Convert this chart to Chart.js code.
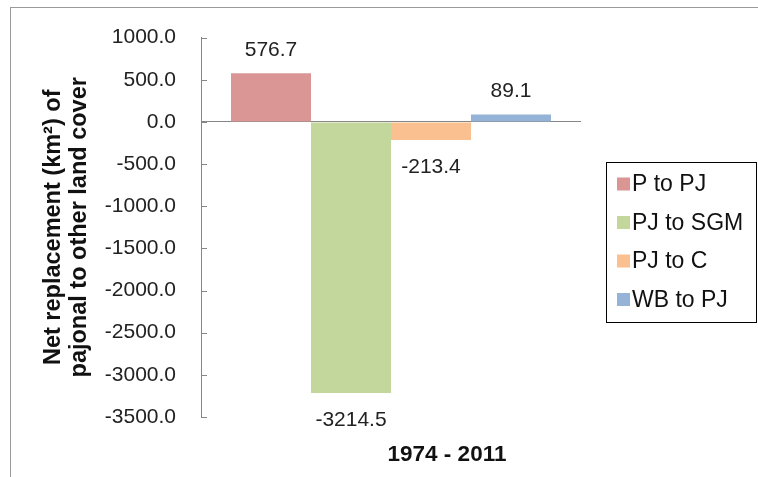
<!DOCTYPE html>
<html>
<head>
<meta charset="utf-8">
<script src="https://cdn.jsdelivr.net/npm/chart.js@4"></script>
<style>
  html, body { margin: 0; padding: 0; background: #fff; }
</style>
</head>
<body>
<canvas id="myChart" width="758" height="477"></canvas>
<script>
const periods = ["1974 - 2011"];
const seriesNames = ["P to PJ", "PJ to SGM", "PJ to C", "WB to PJ"];
const seriesValues = [576.7, -3214.5, -213.4, 89.1];
const seriesColors = ["#d99694", "#c3d69b", "#fac090", "#95b3d7"];
const yTickValues = [1000, 500, 0, -500, -1000, -1500, -2000, -2500, -3000, -3500];

const FONT = "'Liberation Sans', Arial, sans-serif";
const AXIS_GRAY = "#868686";

// frame around the whole chart (only top and left visible in the original)
const framePlugin = {
    id: "frame",
    beforeDraw(chart) {
        const c = chart.ctx;
        c.save();
        c.strokeStyle = "#9a9a9a";
        c.lineWidth = 1;
        c.strokeRect(10.5, 7.5, 900, 600);
        c.restore();
    },
};

// small tick marks pointing inside the plot
const innerTicks = {
    id: "innerTicks",
    afterDraw(chart) {
        const y = chart.scales.y;
        const c = chart.ctx;
        c.save();
        c.strokeStyle = AXIS_GRAY;
        c.lineWidth = 1;
        y.ticks.forEach((t) => {
            const py = Math.round(y.getPixelForValue(t.value)) + 0.5;
            c.beginPath();
            c.moveTo(y.right, py);
            c.lineTo(y.right + 6, py);
            c.stroke();
        });
        c.restore();
    },
};

// value labels above / below each bar
const valueLabels = {
    id: "valueLabels",
    afterDatasetsDraw(chart) {
        const c = chart.ctx;
        c.save();
        c.font = "21px " + FONT;
        c.fillStyle = "#222";
        c.textAlign = "center";
        c.textBaseline = "middle";
        chart.data.datasets.forEach((ds, i) => {
            chart.getDatasetMeta(i).data.forEach((bar, j) => {
                const v = ds.data[j];
                const py = v >= 0 ? bar.y - 23 : bar.y + 27;
                c.fillText(v.toFixed(1), bar.x, py);
            });
        });
        c.restore();
    },
};

// boxed legend on the right
const boxLegend = {
    id: "boxLegend",
    afterDraw(chart) {
        const c = chart.ctx;
        const x0 = 606, y0 = 162, w = 150, h = 160;
        c.save();
        c.strokeStyle = "#000";
        c.lineWidth = 1;
        c.strokeRect(x0 + 0.5, y0 + 0.5, w, h);
        c.font = "23px " + FONT;
        c.textBaseline = "middle";
        chart.data.datasets.forEach((ds, i) => {
            const cy = y0 + 22 + i * 38.5;
            c.fillStyle = ds.backgroundColor;
            c.fillRect(x0 + 11, cy - 6.5, 13, 13);
            c.fillStyle = "#111";
            c.fillText(ds.label, x0 + 26, cy + 1);
        });
        c.restore();
    },
};

const ctx = document.getElementById("myChart").getContext("2d");
const myChart = new Chart(ctx, {
    type: "bar",
    data: {
        labels: periods,
        datasets: seriesNames.map((name, i) => ({
            label: name,
            data: [seriesValues[i]],
            backgroundColor: seriesColors[i],
            borderWidth: 0,
            barPercentage: 1.0,
            categoryPercentage: 0.842,
        })),
    },
    options: {
        responsive: false,
        animation: false,
        devicePixelRatio: 1,
        layout: {
            autoPadding: false,
            padding: { top: 33, left: 0, right: 177, bottom: 0 },
        },
        plugins: {
            legend: { display: false },
            tooltip: { enabled: false },
        },
        scales: {
            x: {
                grid: { display: false, drawTicks: false },
                border: { display: false },
                ticks: {
                    color: "#111",
                    font: { family: FONT, size: 22.5, weight: "bold" },
                    padding: 24,
                    labelOffset: 56,
                },
                afterFit(scale) {
                    scale.height = 60;
                },
            },
            y: {
                min: -3500,
                max: 1000,
                afterBuildTicks(scale) {
                    scale.ticks = yTickValues.map((v) => ({ value: v }));
                },
                grid: {
                    drawTicks: false,
                    color: (c) => (c.tick && c.tick.value === 0 ? AXIS_GRAY : "rgba(0,0,0,0)"),
                },
                border: { display: true, color: AXIS_GRAY },
                ticks: {
                    color: "#222",
                    font: { family: FONT, size: 21 },
                    padding: 25,
                    callback: (v) => Number(v).toFixed(1),
                },
                title: {
                    display: true,
                    text: ["Net replacement (km²) of", "pajonal to other land cover"],
                    color: "#111",
                    font: { family: FONT, size: 23.5, weight: "bold", lineHeight: 1.1 },
                    padding: { top: 41, bottom: 0 },
                },
                afterFit(scale) {
                    scale.width = 201;
                },
            },
        },
    },
    plugins: [framePlugin, innerTicks, valueLabels, boxLegend],
});
</script>
</body>
</html>
